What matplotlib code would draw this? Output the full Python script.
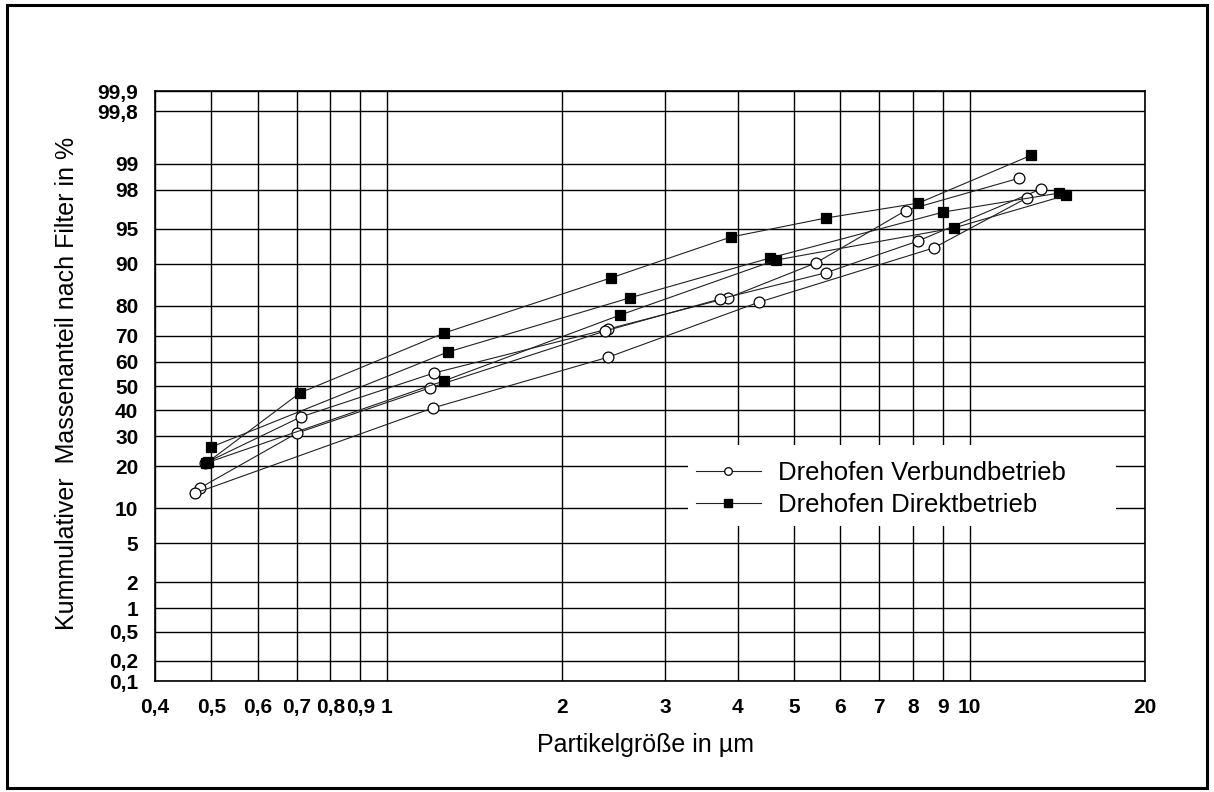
import matplotlib
matplotlib.use("Agg")
import matplotlib.pyplot as plt
import numpy as np
from statistics import NormalDist
from matplotlib.lines import Line2D
from matplotlib.patches import Rectangle
from matplotlib.ticker import FixedLocator, FixedFormatter, NullLocator

# Cumulative mass fraction after filter (%) vs particle size (µm)
verbund_1_x = [0.488, 0.712, 1.204, 2.40, 3.85, 5.44, 7.77, 12.18]
verbund_1_y = [21.0, 37.3, 55.4, 72.5, 82.2, 90.1, 96.7, 98.53]
verbund_2_x = [0.478, 0.701, 1.185, 2.37, 3.73, 5.66, 8.15, 13.24]
verbund_2_y = [14.3, 31.1, 49.2, 71.8, 81.9, 88.2, 93.55, 98.04]
verbund_3_x = [0.469, 1.199, 2.40, 4.35, 8.68, 12.53]
verbund_3_y = [13.1, 40.9, 61.9, 81.0, 92.6, 97.55]

direkt_1_x = [0.493, 0.709, 1.252, 2.42, 3.89, 5.66, 8.17, 12.77]
direkt_1_y = [21.3, 47.1, 71.0, 87.1, 94.06, 96.07, 97.23, 99.22]
direkt_2_x = [0.499, 1.272, 2.61, 4.54, 9.02, 14.26]
direkt_2_y = [26.1, 63.9, 82.2, 90.99, 96.58, 97.84]
direkt_3_x = [0.490, 1.252, 2.51, 4.65, 9.39, 14.66]
direkt_3_y = [21.0, 52.1, 77.1, 90.64, 95.1, 97.72]

x_ticks = [0.4, 0.5, 0.6, 0.7, 0.8, 0.9, 1, 2, 3, 4, 5, 6, 7, 8, 9, 10, 20]
x_tick_labels = ["0,4", "0,5", "0,6", "0,7", "0,8", "0,9", "1", "2", "3", "4",
                 "5", "6", "7", "8", "9", "10", "20"]
y_ticks = [0.1, 0.2, 0.5, 1, 2, 5, 10, 20, 30, 40, 50, 60, 70, 80, 90, 95, 98,
           99, 99.8, 99.9]
y_tick_labels = ["0,1", "0,2", "0,5", "1", "2", "5", "10", "20", "30", "40",
                 "50", "60", "70", "80", "90", "95", "98", "99", "99,8", "99,9"]

label_verbund = "Drehofen Verbundbetrieb"
label_direkt = "Drehofen Direktbetrieb"

# normal probability scale for the percentage axis
_nd = NormalDist()
_ppf = np.vectorize(_nd.inv_cdf, otypes=[float])
_cdf = np.vectorize(_nd.cdf, otypes=[float])


def prob_forward(p):
    q = np.clip(np.asarray(p, dtype=float) / 100.0, 1e-9, 1 - 1e-9)
    return _ppf(q)


def prob_inverse(z):
    return 100.0 * _cdf(np.asarray(z, dtype=float))


TICK_FONT = ["Liberation Sans Narrow", "Liberation Sans", "DejaVu Sans"]
TEXT_FONT = ["Liberation Sans", "DejaVu Sans"]

W, H = 1214, 792
fig = plt.figure(figsize=(W / 100, H / 100), dpi=100)
ax = fig.add_axes([155 / W, 1 - 681 / H, 990 / W, 590 / H])

ax.set_xscale("log")
ax.set_yscale("function", functions=(prob_forward, prob_inverse))
ax.set_xlim(0.4, 20)
ax.set_ylim(0.1, 99.9)

ax.xaxis.set_major_locator(FixedLocator(x_ticks))
ax.xaxis.set_major_formatter(FixedFormatter(x_tick_labels))
ax.xaxis.set_minor_locator(NullLocator())
ax.yaxis.set_major_locator(FixedLocator(y_ticks))
ax.yaxis.set_major_formatter(FixedFormatter(y_tick_labels))
ax.yaxis.set_minor_locator(NullLocator())

ax.set_axisbelow(True)
ax.grid(True, which="major", color="black", linewidth=1.0)
ax.tick_params(axis="both", length=0)
ax.tick_params(axis="x", pad=12)
ax.tick_params(axis="y", pad=12)
for lab in ax.get_xticklabels() + ax.get_yticklabels():
    lab.set_fontfamily(TICK_FONT)
    lab.set_fontweight("bold")
    lab.set_fontsize(15)
for sp in ax.spines.values():
    sp.set_linewidth(1.2)
    sp.set_color("black")

line_kw = dict(color="#222222", linewidth=0.8, markersize=7.8,
               markeredgewidth=0.9, markeredgecolor="black", zorder=3)

for xs, ys in [(verbund_1_x, verbund_1_y), (verbund_2_x, verbund_2_y),
               (verbund_3_x, verbund_3_y)]:
    ax.plot(xs, ys, marker="o", markerfacecolor="white", **line_kw)

for xs, ys in [(direkt_1_x, direkt_1_y), (direkt_2_x, direkt_2_y),
               (direkt_3_x, direkt_3_y)]:
    ax.plot(xs, ys, marker="s", markerfacecolor="black", **line_kw)

ax.set_xlabel("Partikelgröße in µm", fontsize=18, family=TEXT_FONT)
ax.xaxis.set_label_coords(0.495, -0.108)
ax.xaxis.label.set_va("center")
ax.set_ylabel("Kummulativer  Massenanteil nach Filter in %", fontsize=18,
              family=TEXT_FONT)
ax.yaxis.set_label_coords(-0.089, 0.505)
ax.yaxis.label.set_va("center")

# white patch behind the legend, hides the grid there
ax.add_patch(Rectangle((0.538, 0.263), 0.433, 0.137, transform=ax.transAxes,
                       facecolor="white", edgecolor="none", zorder=1))

handles = [
    Line2D([], [], color="#222222", linewidth=0.8, marker="o", markersize=5.5,
           markerfacecolor="white", markeredgecolor="black",
           markeredgewidth=0.9, label=label_verbund),
    Line2D([], [], color="#222222", linewidth=0.8, marker="s", markersize=5.5,
           markerfacecolor="black", markeredgecolor="black",
           label=label_direkt),
]
leg = ax.legend(handles=handles, loc="center left",
                bbox_to_anchor=(0.546, 0.326), frameon=False,
                prop={"family": TEXT_FONT, "size": 18.5},
                handlelength=2.55, handletextpad=0.65, labelspacing=0.3,
                borderpad=0, borderaxespad=0)
leg.set_zorder(4)

# outer frame around the whole figure
fig.patches.append(Rectangle((7 / W, 1 - 788 / H), 1200 / W, 783 / H,
                             transform=fig.transFigure, fill=False,
                             linewidth=2.2, edgecolor="black"))

fig.savefig("out.png", dpi=100)
